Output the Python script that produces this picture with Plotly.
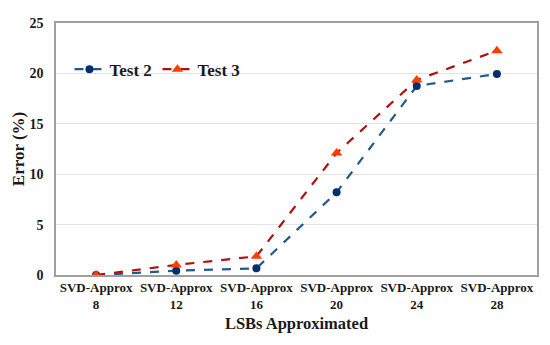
import plotly.graph_objects as go

categories = ["SVD-Approx<br>8", "SVD-Approx<br>12", "SVD-Approx<br>16",
              "SVD-Approx<br>20", "SVD-Approx<br>24", "SVD-Approx<br>28"]
test2 = [0.0, 0.43, 0.66, 8.2, 18.75, 19.95]
test3 = [0.0, 1.0, 1.85, 12.1, 19.35, 22.25]
y_ticks = [0, 5, 10, 15, 20, 25]

font_family = "Liberation Serif, Times New Roman, serif"

fig = go.Figure()
fig.add_trace(go.Scatter(
    x=categories, y=test2, name="Test 2", mode="lines+markers",
    line=dict(color="#1F5A8C", width=2.2, dash="dash"),
    marker=dict(symbol="circle", size=8, color="#002F6C"),
))
fig.add_trace(go.Scatter(
    x=categories, y=test3, name="Test 3", mode="lines+markers",
    line=dict(color="#B01010", width=2.2, dash="dash"),
    marker=dict(symbol="triangle-up", size=10, color="#FF3D00"),
))

# page body has an 8px margin, so figure is sized 542x337
fig.update_layout(
    width=542, height=337,
    margin=dict(l=48, r=13, t=15, b=70),
    paper_bgcolor="white", plot_bgcolor="white",
    font=dict(family=font_family, color="#1a1a1a"),
    legend=dict(
        orientation="h", x=0.028, y=0.815, xanchor="left", yanchor="middle",
        font=dict(family=font_family, size=17, color="#1a1a1a", weight="bold"),
        bgcolor="rgba(0,0,0,0)", itemwidth=30, entrywidth=43,
    ),
    xaxis=dict(
        type="category", tickvals=categories, ticktext=categories,
        tickfont=dict(family=font_family, size=13, weight="bold"),
        showgrid=False, showline=True, linecolor="#A0A0A0", linewidth=1.5,
        mirror=True, ticks="", range=[-0.5, 5.5], automargin=False,
        title=dict(text="<b>LSBs Approximated</b>", font=dict(family=font_family, size=16.5), standoff=6),
    ),
    yaxis=dict(
        range=[0, 25], tickvals=y_ticks,
        tickfont=dict(family=font_family, size=14, weight="bold"),
        showgrid=True, gridcolor="#E3E3E3", gridwidth=1,
        showline=True, linecolor="#A0A0A0", linewidth=1.5, mirror=True,
        zeroline=False, ticks="", ticklabelstandoff=8, automargin=False,
        title=dict(text="<b>Error (%)</b>", font=dict(family=font_family, size=17), standoff=1),
    ),
)

fig.write_html("out.html")
